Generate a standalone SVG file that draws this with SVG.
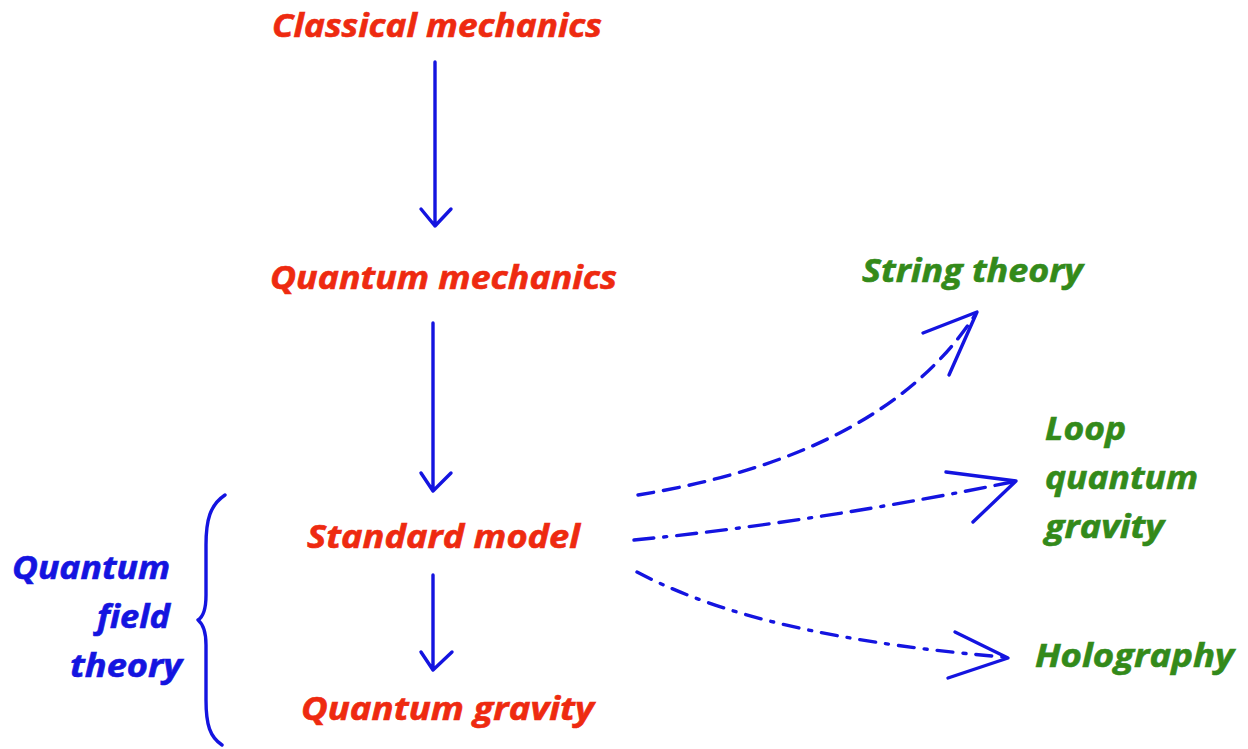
<svg xmlns="http://www.w3.org/2000/svg" width="1248" height="749" viewBox="0 0 1248 749">
<style>
text{font-family:"Open Sans","Noto Sans","DejaVu Sans",sans-serif;font-weight:bold;font-style:italic;font-size:32px;stroke-width:0.6}
.r{fill:#ee2a10;stroke:#ee2a10}
.g{fill:#338a1a;stroke:#338a1a}
.b{fill:#1414e0;stroke:#1414e0}
.ln{fill:none;stroke:#1414e0;stroke-width:3.4;stroke-linecap:round;stroke-linejoin:round}
</style>
<rect width="1248" height="749" fill="#ffffff"/>
<g id="classical"><text class="r" x="272" y="37" textLength="330" lengthAdjust="spacingAndGlyphs">Classical mechanics</text></g>
<g id="quantum-mechanics"><text class="r" x="270" y="289" textLength="347" lengthAdjust="spacingAndGlyphs">Quantum mechanics</text></g>
<g id="standard-model"><text class="r" x="307" y="548" textLength="273" lengthAdjust="spacingAndGlyphs">Standard model</text></g>
<g id="quantum-gravity"><text class="r" x="301" y="720" textLength="293" lengthAdjust="spacingAndGlyphs">Quantum gravity</text></g>
<g id="string-theory"><text class="g" x="862" y="282" textLength="221" lengthAdjust="spacingAndGlyphs">String theory</text></g>
<g id="lqg">
<text class="g" x="1045" y="440" textLength="81" lengthAdjust="spacingAndGlyphs">Loop</text>
<text class="g" x="1045" y="489" textLength="153" lengthAdjust="spacingAndGlyphs">quantum</text>
<text class="g" x="1045" y="538" textLength="119" lengthAdjust="spacingAndGlyphs">gravity</text>
</g>
<g id="holography"><text class="g" x="1035" y="667" textLength="199" lengthAdjust="spacingAndGlyphs">Holography</text></g>
<g id="qft">
<text class="b" x="12" y="579" textLength="158" lengthAdjust="spacingAndGlyphs">Quantum</text>
<text class="b" x="97" y="628" textLength="73" lengthAdjust="spacingAndGlyphs">field</text>
<text class="b" x="70" y="677" textLength="112" lengthAdjust="spacingAndGlyphs">theory</text>
<path class="ln" d="M225,495 C210,505 206,520 206,545 L206,595 C206,610 203,617 198,620 C203,624 206,632 206,645 L206,700 C206,725 210,737 222,745"/>
</g>
<g id="connectors">
<path class="ln" d="M435,62 L435,226 M421,209 L435,226 L451,209"/>
<path class="ln" d="M433,323 L433,491 M421,473 L433,491 L451,473"/>
<path class="ln" d="M433,575 L433,670 M421,652 L433,670 L452,652"/>
<path class="ln" stroke-dasharray="16,10" d="M638,495 C760,475 900,430 975,315"/>
<path class="ln" d="M923,333 L977,312 L949,375"/>
<path class="ln" stroke-dasharray="20,10,3,10,20,10" d="M634,540 C760,528 900,505 1012,482"/>
<path class="ln" d="M946,472 L1016,481 L973,522"/>
<path class="ln" stroke-dasharray="16,10,3,10" d="M637,572 C700,605 800,640 1004,657"/>
<path class="ln" d="M955,632 L1008,658 L948,678"/>
</g>
</svg>
